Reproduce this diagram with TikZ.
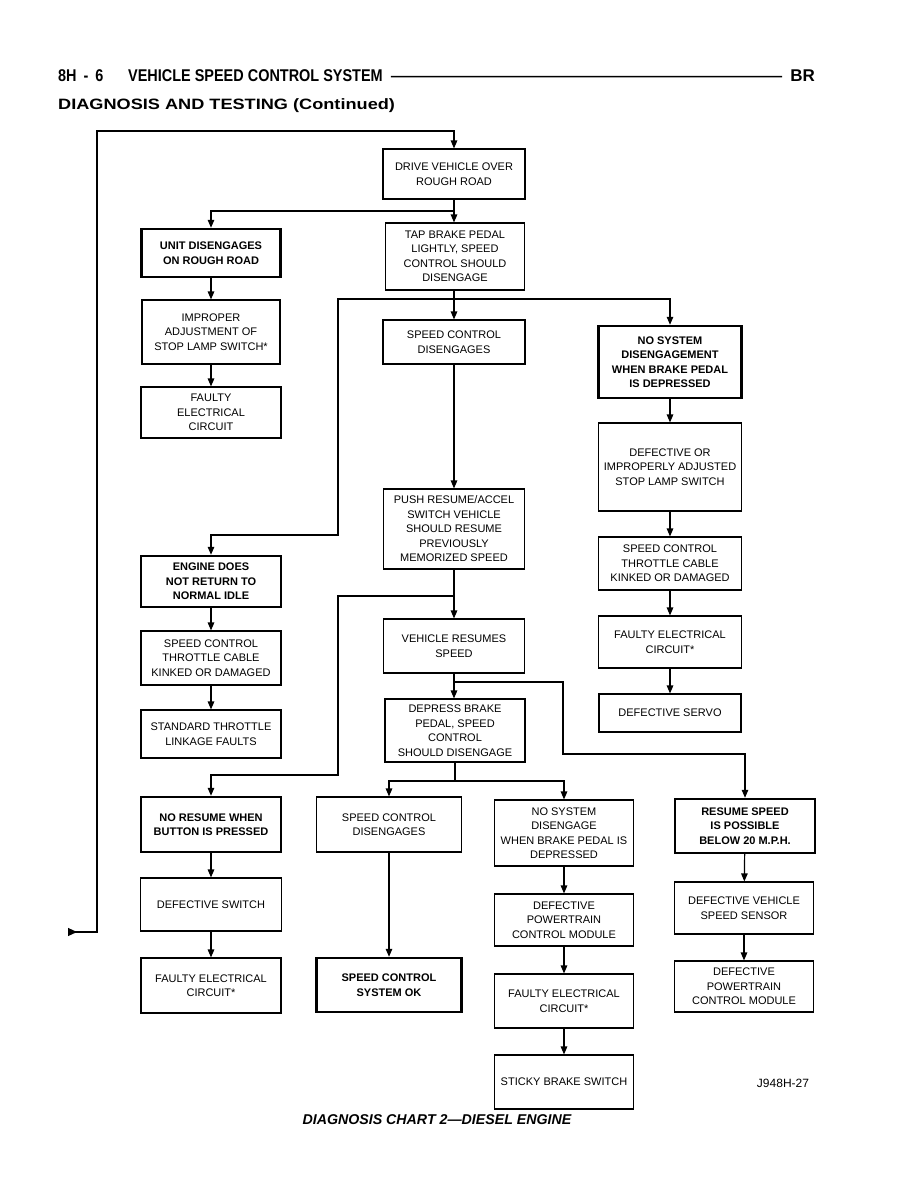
\documentclass[tikz,border=0pt]{standalone}
\usepackage{fontspec}
\setmainfont{Liberation Sans}
\newfontfamily\headfont[FakeStretch=0.85]{Liberation Sans}
\newfontfamily\subheadfont[FakeStretch=1.21]{Liberation Sans}
\usetikzlibrary{arrows.meta}
\tikzset{
  box/.style={draw, line width=1.1pt, align=center, inner sep=1pt,
    font=\fontsize{11}{14.5}\selectfont},
  hbox/.style={box, line width=2.4pt, font=\fontsize{11}{14.5}\selectfont\bfseries},
  conn/.style={line width=1.2pt},
  arr/.style={conn, -{Triangle[length=8pt,width=6.5pt]}},
  headtxt/.style={inner sep=0pt, anchor=base west},
}
\begin{document}
\begin{tikzpicture}[x=1pt,y=-1pt]
\useasboundingbox[fill=white] (0,0) rectangle (918,1188);

% ---------- header ----------
\node[headtxt, font=\headfont\fontsize{17}{20}\selectfont\bfseries] (pg) at (58,82) {8H\hspace{7pt}-\hspace{7pt}6};
\node[headtxt, font=\headfont\fontsize{17}{20}\selectfont\bfseries] (title) at (128,82) {VEHICLE SPEED CONTROL SYSTEM};
\node[inner sep=0pt, anchor=base east, font=\fontsize{17}{20}\selectfont\bfseries] (br) at (815,82) {BR};
\draw[line width=1.5pt] ([xshift=8pt,yshift=-0.5pt]title.east) -- ([xshift=-8pt,yshift=-0.5pt]br.west);
\node[headtxt, font=\subheadfont\fontsize{15}{18}\selectfont\bfseries] (sub) at (58,110) {DIAGNOSIS AND TESTING (Continued)};

% ---------- boxes ----------
\node[box, minimum width=142, minimum height=50] (drive) at (454,174) {DRIVE VEHICLE OVER\\ROUGH ROAD};
\node[box, minimum width=139, minimum height=67] (tap) at (455,256.5) {TAP BRAKE PEDAL\\LIGHTLY, SPEED\\CONTROL SHOULD\\DISENGAGE};
\node[hbox, minimum width=139, minimum height=48] (unit) at (211,253) {UNIT DISENGAGES\\ON ROUGH ROAD};
\node[box, minimum width=138, minimum height=64] (improper) at (211,332) {IMPROPER\\ADJUSTMENT OF\\STOP LAMP SWITCH*};
\node[box, minimum width=140, minimum height=51] (faulty1) at (211,412.5) {FAULTY\\ELECTRICAL\\CIRCUIT};

\node[box, minimum width=142, minimum height=44] (scd) at (454,342) {SPEED CONTROL\\DISENGAGES};
\node[box, minimum width=141, minimum height=80] (push) at (454,529) {PUSH RESUME/ACCEL\\SWITCH VEHICLE\\SHOULD RESUME\\PREVIOUSLY\\MEMORIZED SPEED};
\node[box, minimum width=141, minimum height=54] (vres) at (454,646) {VEHICLE RESUMES\\SPEED};
\node[box, minimum width=140, minimum height=63] (depress) at (455,730.5) {DEPRESS BRAKE\\PEDAL, SPEED\\CONTROL\\SHOULD DISENGAGE};

\node[hbox, minimum width=143, minimum height=72] (nosys) at (670,362) {NO SYSTEM\\DISENGAGEMENT\\WHEN BRAKE PEDAL\\IS DEPRESSED};
\node[box, minimum width=143, minimum height=88] (defstop) at (670,467) {DEFECTIVE OR\\IMPROPERLY ADJUSTED\\STOP LAMP SWITCH};
\node[box, minimum width=143, minimum height=53] (throttle2) at (670,563.5) {SPEED CONTROL\\THROTTLE CABLE\\KINKED OR DAMAGED};
\node[box, minimum width=143, minimum height=52] (faulty4) at (670,642) {FAULTY ELECTRICAL\\CIRCUIT*};
\node[box, minimum width=142, minimum height=38] (servo) at (670,713) {DEFECTIVE SERVO};

\node[hbox, minimum width=140, minimum height=51] (engine) at (211,581.5) {ENGINE DOES\\NOT RETURN TO\\NORMAL IDLE};
\node[box, minimum width=140, minimum height=54] (throttle1) at (211,658) {SPEED CONTROL\\THROTTLE CABLE\\KINKED OR DAMAGED};
\node[box, minimum width=140, minimum height=48] (standard) at (211,734) {STANDARD THROTTLE\\LINKAGE FAULTS};

\node[hbox, minimum width=140, minimum height=55] (noresume) at (211,824.5) {NO RESUME WHEN\\BUTTON IS PRESSED};
\node[box, minimum width=141, minimum height=53] (defsw) at (211,904.5) {DEFECTIVE SWITCH};
\node[box, minimum width=140, minimum height=55] (faulty2) at (211,985.5) {FAULTY ELECTRICAL\\CIRCUIT*};

\node[box, minimum width=145, minimum height=55] (scd2) at (389,824.5) {SPEED CONTROL\\DISENGAGES};
\node[hbox, minimum width=145, minimum height=54] (ok) at (389,985) {SPEED CONTROL\\SYSTEM OK};

\node[box, minimum width=139, minimum height=66] (nosys2) at (564,833) {NO SYSTEM\\DISENGAGE\\WHEN BRAKE PEDAL IS\\DEPRESSED};
\node[box, minimum width=139, minimum height=52] (defpcm1) at (564,920) {DEFECTIVE\\POWERTRAIN\\CONTROL MODULE};
\node[box, minimum width=139, minimum height=54] (faulty3) at (564,1001) {FAULTY ELECTRICAL\\CIRCUIT*};
\node[box, minimum width=139, minimum height=54] (sticky) at (564,1082) {STICKY BRAKE SWITCH};

\node[hbox, minimum width=140, minimum height=54] (resume) at (745,826) {RESUME SPEED\\IS POSSIBLE\\BELOW 20 M.P.H.};
\node[box, minimum width=139, minimum height=52] (vss) at (744,908) {DEFECTIVE VEHICLE\\SPEED SENSOR};
\node[box, minimum width=139, minimum height=51] (defpcm2) at (744,986.5) {DEFECTIVE\\POWERTRAIN\\CONTROL MODULE};

% ---------- labels ----------
\node[inner sep=0pt, font=\fontsize{12}{14}\selectfont] (fig) at (783,1083) {J948H-27};
\node[inner sep=0pt, anchor=base, font=\fontsize{14.2}{16}\selectfont\bfseries\itshape] (cap) at (437,1124) {DIAGNOSIS CHART 2—DIESEL ENGINE};

% ---------- connectors ----------
\coordinate (loopin) at (68,932);
\coordinate (l1) at (97,932);
\coordinate (l2) at (97,131);
\draw[conn, {Triangle[length=9pt,width=8pt,reversed]}-{Triangle[length=8pt,width=6.5pt]}] (loopin) -- (l1) -- (l2) -| (drive);

\coordinate (s1) at (454,211);
\draw[conn] (drive) -- (s1);
\draw[arr] (s1) -| (unit);
\draw[arr] (s1) -- (s1 |- tap.north);

\coordinate (s2) at (454,299);
\coordinate (s2l) at (338,299);
\coordinate (s2d) at (338,535);
\draw[conn] (tap.south -| s2) -- (s2);
\draw[arr] (s2) -- (scd);
\draw[arr] (s2) -| (nosys);
\draw[arr] (s2) -- (s2l) -- (s2d) -| (engine);

\draw[arr] (scd) -- (push);
\draw[arr] (push) -- (vres);
\coordinate (b1) at (454,596);
\coordinate (b1l) at (338,596);
\coordinate (b1d) at (338,775);
\draw[arr] (b1) -- (b1l) -- (b1d) -| (noresume);

\draw[arr] (vres.south) -- (vres.south |- depress.north);
\coordinate (b2) at (454,682);
\coordinate (b2r) at (563,682);
\coordinate (b2d) at (563,754);
\draw[arr] (b2) -- (b2r) -- (b2d) -| (resume);

\coordinate (s3) at (455,781);
\draw[conn] (depress) -- (s3);
\draw[arr] (s3) -| (scd2);
\draw[arr] (s3) -| (nosys2);

\draw[arr] (unit) -- (improper);
\draw[arr] (improper) -- (faulty1);
\draw[arr] (engine) -- (throttle1);
\draw[arr] (throttle1) -- (standard);
\draw[arr] (noresume) -- (defsw);
\draw[arr] (defsw) -- (faulty2);
\draw[arr] (scd2) -- (ok);
\draw[arr] (nosys2) -- (defpcm1);
\draw[arr] (defpcm1) -- (faulty3);
\draw[arr] (faulty3) -- (sticky);
\draw[arr] (nosys) -- (defstop);
\draw[arr] (defstop) -- (throttle2);
\draw[arr] (throttle2) -- (faulty4);
\draw[arr] (faulty4) -- (servo);
\draw[arr] (resume) -- (vss);
\draw[arr] (vss) -- (defpcm2);
\end{tikzpicture}
\end{document}
